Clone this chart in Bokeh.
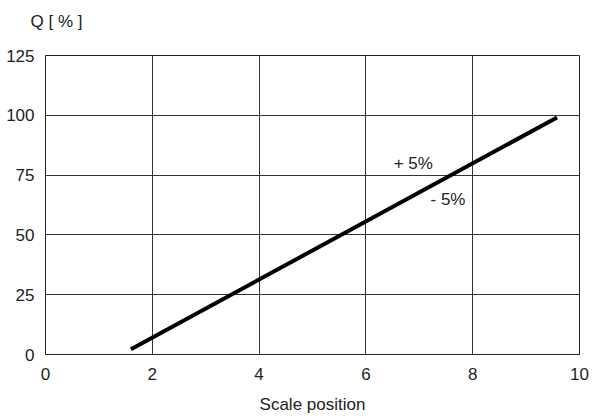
from bokeh.plotting import figure
from bokeh.models import Label, FixedTicker, Range1d, Title
from bokeh.embed import file_html
from bokeh.resources import INLINE

# data
line_x = [1.6, 9.58]
line_y = [2.2, 99.1]
x_ticks = [0, 2, 4, 6, 8, 10]
y_ticks = [0, 25, 50, 75, 100, 125]
annotations = ["+ 5%", "- 5%"]
ann_x = [6.52, 7.21]
ann_y = [80.0, 65.0]

FONT = "Liberation Sans"
FS = "17px"
TXT = "#222222"

p = figure(width=595, height=416, output_backend="svg", toolbar_location=None,
           x_range=Range1d(0, 10), y_range=Range1d(0, 125),
           min_border_left=45, min_border_right=16, min_border_top=55, min_border_bottom=60)

p.line(line_x, line_y, line_width=4, line_color="black")

for t, x, y in zip(annotations, ann_x, ann_y):
    p.add_layout(Label(x=x, y=y, text=t, text_font=FONT, text_font_size=FS,
                       text_baseline="middle", text_align="left", text_color=TXT))

# spacer panel between frame and title (pushes the title upward)
p.add_layout(Title(text=" ", text_font=FONT, text_font_size=FS, standoff=0), "above")

p.title.text = "Q [ % ]"
p.title.text_font = FONT
p.title.text_font_size = FS
p.title.text_font_style = "normal"
p.title.text_color = TXT
p.title.align = "left"
p.title.offset = -15
p.title.standoff = 8

p.xaxis.ticker = FixedTicker(ticks=x_ticks)
p.yaxis.ticker = FixedTicker(ticks=y_ticks)
for ax in (p.xaxis, p.yaxis):
    ax.major_tick_line_color = None
    ax.minor_tick_line_color = None
    ax.major_label_text_font = FONT
    ax.major_label_text_font_size = FS
    ax.major_label_text_color = TXT
    ax.axis_line_color = TXT
    ax.axis_line_width = 1
p.xaxis.major_label_standoff = 7
p.yaxis.major_label_standoff = 5
p.xaxis.axis_label = "Scale position"
p.xaxis.axis_label_text_font = FONT
p.xaxis.axis_label_text_font_size = FS
p.xaxis.axis_label_text_font_style = "normal"
p.xaxis.axis_label_text_color = TXT
p.xaxis.axis_label_standoff = 12

p.grid.grid_line_color = "#333333"
p.grid.grid_line_width = 1
p.outline_line_color = TXT
p.outline_line_width = 1
p.background_fill_color = "white"
p.border_fill_color = "white"

open("out.html", "w").write(file_html(p, INLINE))
